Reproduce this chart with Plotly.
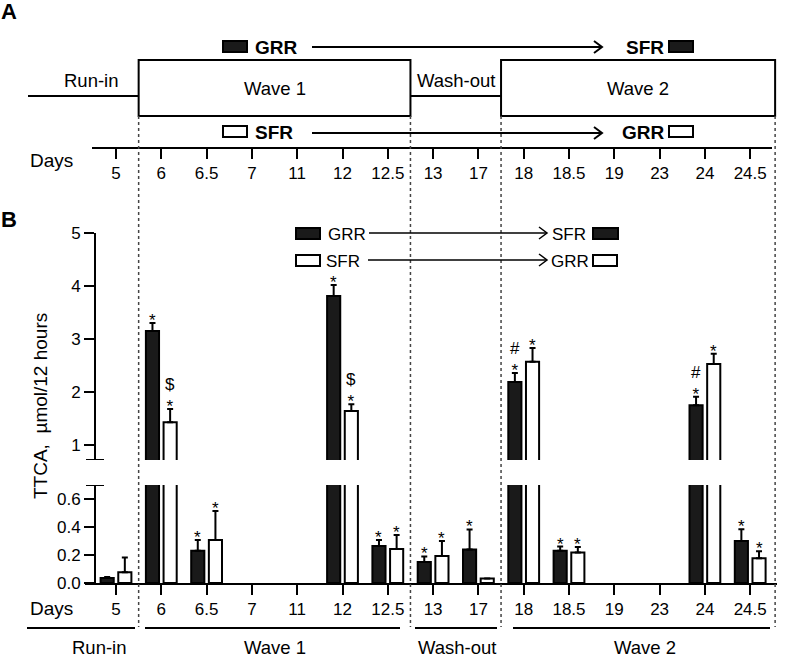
import plotly.graph_objects as go

# ---------------- data ----------------
days = ["5", "6", "6.5", "7", "11", "12", "12.5", "13", "17", "18", "18.5", "19", "23", "24", "24.5"]
grr_mean = [0.035, 3.15, 0.23, None, None, 3.81, 0.265, 0.15, 0.24, 2.19, 0.23, None, None, 1.75, 0.30]
grr_sem = [0.008, 0.15, 0.077, None, None, 0.21, 0.042, 0.04, 0.143, 0.17, 0.03, None, None, 0.16, 0.084]
sfr_mean = [0.077, 1.43, 0.307, None, None, 1.64, 0.243, 0.193, 0.033, 2.57, 0.217, None, None, 2.53, 0.176]
sfr_sem = [0.105, 0.25, 0.207, None, None, 0.13, 0.10, 0.107, None, 0.26, 0.04, None, None, 0.19, 0.05]
grr_sig = ["", "*", "*", "", "", "*", "*", "*", "*", "#<br>*", "*", "", "", "#<br>*", "*"]
sfr_sig = ["", "$<br>*", "*", "", "", "$<br>*", "*", "*", "", "*", "*", "", "", "*", "*"]

periods = ["Run-in", "Wave 1", "Wash-out", "Wave 2"]
period_start = [0, 1, 7, 9]
period_end = [0, 6, 8, 14]

upper_ticks = [1, 2, 3, 4, 5]
lower_ticks = [0.0, 0.2, 0.4, 0.6]
LOWER_MAX = 0.7      # top of lower (broken) axis
UPPER_MIN = 0.717    # bottom of upper axis
UPPER_MAX = 5

# ---------------- layout helpers ----------------
W, H = 800, 668
X0, DX = 116.0, 45.3          # pixel of first tick, pixels per category step
FONT = "Liberation Sans, Arial, Helvetica, sans-serif"
BLACK = "black"


def ix(px):
    return (px - X0) / DX


def pxp(px):
    return px / W


def pyp(py):
    return 1 - py / H


n = len(days)
idx = list(range(n))

fig = go.Figure()

# invisible full-page subplot (x in category index units, y in pixels from top)
fig.add_trace(go.Scatter(x=[0], y=[-50], xaxis="x", yaxis="y", mode="markers",
                         marker=dict(opacity=0), showlegend=False, hoverinfo="skip"))
# panel A day axis
fig.add_trace(go.Scatter(x=[0], y=[-5], xaxis="x2", yaxis="y2", mode="markers",
                         marker=dict(opacity=0), showlegend=False, hoverinfo="skip"))

BAR_W = 0.29
OFF = {"GRR": -0.34, "SFR": 0.05}
series = [("GRR", grr_mean, grr_sem, "#1a1a1a", grr_sig),
          ("SFR", sfr_mean, sfr_sem, "white", sfr_sig)]

for name, mean, sem, fill, sig in series:
    up = [v if (v is not None and v > UPPER_MIN) else None for v in mean]
    for xa, ya, vals in [("x3", "y3", mean), ("x4", "y4", up)]:
        fig.add_trace(go.Bar(
            x=idx, y=vals, width=BAR_W, offset=OFF[name],
            marker=dict(color=fill, line=dict(color=BLACK, width=2)),
            error_y=dict(type="data", symmetric=False, array=sem,
                         arrayminus=[0] * n, thickness=2, width=3, color=BLACK),
            xaxis=xa, yaxis=ya, showlegend=False, name=name))

annotations = []
shapes = []


def text(x, y, s, size=18, bold=False, xanchor="center", yanchor="middle",
         xref="paper", yref="paper", angle=0, yshift=0):
    if bold:
        s = "<b>" + s + "</b>"
    annotations.append(dict(x=x, y=y, xref=xref, yref=yref, text=s, showarrow=False,
                            xanchor=xanchor, yanchor=yanchor, textangle=angle,
                            yshift=yshift, borderpad=0,
                            font=dict(family=FONT, size=size, color=BLACK)))


# significance marks
for name, mean, sem, fill, sig in series:
    for i in idx:
        if not sig[i] or mean[i] is None:
            continue
        top = mean[i] + (sem[i] or 0)
        xa, ya = ("x4", "y4") if mean[i] > LOWER_MAX else ("x3", "y3")
        text(i + OFF[name] + BAR_W / 2, top, sig[i], size=17, xref=xa, yref=ya,
             yanchor="bottom", yshift=-8)

# ---------------- panel A ----------------
text(pxp(0), pyp(11), "A", size=22, bold=True, xanchor="left")

edges = [period_start[k] - 0.5 for k in range(len(periods))] + [period_end[-1] + 0.55]
BOX_T, BOX_B, LINE_Y = 60, 116, 96
for k, p in enumerate(periods):
    x0 = edges[k]
    x1 = edges[k + 1]
    if k == 0:
        x0 = ix(28)
    if p.startswith("Wave"):
        shapes.append(dict(type="rect", xref="x", yref="y", x0=x0, x1=x1, y0=BOX_T, y1=BOX_B,
                           line=dict(color=BLACK, width=2)))
        text((x0 + x1) / 2, 88, p, size=18.5, xref="x", yref="y")
    else:
        shapes.append(dict(type="line", xref="x", yref="y", x0=x0, x1=x1, y0=LINE_Y, y1=LINE_Y,
                           line=dict(color=BLACK, width=2)))
        lx = (edges[k] + edges[k + 1]) / 2 if k else ix(91)
        text(lx, 80, p, size=18.5, xref="x", yref="y")

# dotted period separators
for e in edges[1:]:
    shapes.append(dict(type="line", xref="x", yref="y", x0=e, x1=e, y0=BOX_B, y1=627,
                       line=dict(color="#444", width=1.5, dash="dot")))


def arrow(xa, xb, y, width=2, head=8, half=6):
    shapes.append(dict(type="line", xref="paper", yref="paper", x0=pxp(xa), x1=pxp(xb),
                       y0=pyp(y), y1=pyp(y), line=dict(color=BLACK, width=width)))
    shapes.append(dict(type="path", xref="paper", yref="paper",
                       path=f"M {pxp(xb - head)} {pyp(y - half)} L {pxp(xb)} {pyp(y)} L {pxp(xb - head)} {pyp(y + half)}",
                       line=dict(color=BLACK, width=width)))


def swatch(xa, xb, yt, yb, filled):
    shapes.append(dict(type="rect", xref="paper", yref="paper", x0=pxp(xa), x1=pxp(xb),
                       y0=pyp(yt), y1=pyp(yb), fillcolor="#1a1a1a" if filled else "white",
                       line=dict(color=BLACK, width=2)))


# panel A treatment sequence
swatch(223, 247, 41, 52, True)
text(pxp(254), pyp(47), "GRR", size=19, bold=True, xanchor="left")
arrow(312, 602, 47)
text(pxp(665), pyp(47), "SFR", size=19, bold=True, xanchor="right")
swatch(669, 693, 41, 52, True)

swatch(223, 247, 126, 137, False)
text(pxp(254), pyp(132), "SFR", size=19, bold=True, xanchor="left")
arrow(312, 602, 133)
text(pxp(666), pyp(132), "GRR", size=19, bold=True, xanchor="right")
swatch(669, 693, 126, 137, False)

text(pxp(29), pyp(160), "Days", size=19, xanchor="left")

# ---------------- panel B ----------------
text(pxp(0), pyp(219), "B", size=22, bold=True, xanchor="left")

swatch(296, 320, 228, 239, True)
text(pxp(327), pyp(234), "GRR", size=17, xanchor="left")
arrow(369, 547, 233, width=1.5, head=8, half=6)
text(pxp(551), pyp(234), "SFR", size=17, xanchor="left")
swatch(593, 618, 228, 239, True)

swatch(296, 320, 255, 266, False)
text(pxp(325), pyp(261), "SFR", size=17, xanchor="left")
arrow(368, 547, 260, width=1.5, head=8, half=6)
text(pxp(550), pyp(261), "GRR", size=17, xanchor="left")
swatch(593, 617, 255, 266, False)

text(pxp(40), pyp(406), "TTCA,\u00a0\u00a0µmol/12 hours", size=19, angle=-90)
text(pxp(29), pyp(608), "Days", size=19, xanchor="left")

# axis-break caps
for ya, yv in [("y4", UPPER_MIN), ("y3", LOWER_MAX)]:
    shapes.append(dict(type="line", xref="paper", yref=ya, xsizemode="pixel",
                       xanchor=pxp(95), x0=-9, x1=9, y0=yv, y1=yv,
                       line=dict(color=BLACK, width=2)))

# period groups under panel B
grp_x0 = [ix(27), ix(145), ix(415), ix(513)]
grp_x1 = [ix(135), ix(400), ix(497), ix(770)]
grp_lab = [ix(99), 3.5, 7.52, 11.68]
for k, p in enumerate(periods):
    shapes.append(dict(type="line", xref="x", yref="y", x0=grp_x0[k], x1=grp_x1[k],
                       y0=628, y1=628, line=dict(color=BLACK, width=2)))
    text(grp_lab[k], 647, p, size=18.5, xref="x", yref="y")

axis_common = dict(showline=True, linecolor=BLACK, linewidth=2, ticks="outside",
                   tickcolor=BLACK, tickwidth=2, ticklen=10, showgrid=False, zeroline=False,
                   automargin=False,
                   tickfont=dict(family=FONT, size=17, color=BLACK))

fig.update_layout(
    template="none",
    width=W, height=H, margin=dict(l=0, r=0, t=0, b=0, pad=0), autosize=False,
    paper_bgcolor="white", plot_bgcolor="rgba(0,0,0,0)",
    barmode="overlay", showlegend=False,
    font=dict(family=FONT, color=BLACK),
    xaxis=dict(domain=[0, 1], range=[ix(0), ix(W)], visible=False, automargin=False),
    yaxis=dict(domain=[0, 1], range=[H, 0], visible=False, automargin=False),
    xaxis2=dict(domain=[pxp(92), pxp(772)], range=[ix(92), ix(772)], anchor="y2",
                tickmode="array", tickvals=idx, ticktext=days, **axis_common),
    yaxis2=dict(domain=[pyp(147), 1], range=[0, 1], anchor="x2", visible=False,
                automargin=False),
    xaxis3=dict(domain=[pxp(85), pxp(777)], range=[ix(85), ix(777)], anchor="y3",
                tickmode="array", tickvals=idx, ticktext=days, **axis_common),
    yaxis3=dict(domain=[pyp(583), pyp(485)], range=[0, LOWER_MAX], anchor="free",
                position=pxp(95), tickmode="array", tickvals=lower_ticks,
                tickformat=".1f", **axis_common),
    xaxis4=dict(domain=[pxp(85), pxp(777)], range=[ix(85), ix(777)], anchor="y4",
                visible=False, automargin=False),
    yaxis4=dict(domain=[pyp(460), pyp(233)], range=[UPPER_MIN, UPPER_MAX], anchor="free",
                position=pxp(95), tickmode="array", tickvals=upper_ticks, **axis_common),
    shapes=shapes, annotations=annotations,
)

fig.write_html("out.html", post_script="document.body.style.margin='0';",
               config={"displayModeBar": False})
